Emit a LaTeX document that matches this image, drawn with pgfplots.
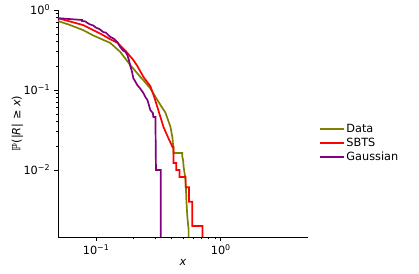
\documentclass[border=0pt]{standalone}
\usepackage{pgfplots}
\pgfplotsset{compat=1.18}
\usepackage{fontspec}
\setmainfont{DejaVu Sans}
\definecolor{mplolive}{HTML}{808000}
\definecolor{mplred}{HTML}{FF0000}
\definecolor{mplpurple}{HTML}{800080}
\begin{document}
\fontsize{11.3}{13.5}\selectfont
\begin{tikzpicture}
\begin{axis}[
    name=ax,
    scale only axis,
    width=250pt, height=227pt,
    xmode=log, ymode=log,
    xmin=0.0495, xmax=5,
    ymin=0.001454, ymax=1,
    axis x line*=bottom, axis y line*=left,
    axis line style={-, line width=0.9pt},
    tick align=outside,
    major tick length=4pt, minor tick length=2.3pt,
    tick style={black, line width=0.8pt},
    xtick={0.1,1}, xticklabels={10\textsuperscript{−1},10\textsuperscript{0}},
    ytick={0.01,0.1,1}, yticklabels={10\textsuperscript{−2},10\textsuperscript{−1},10\textsuperscript{0}},
    tick label style={font=\fontsize{11.3}{13.5}\selectfont},
    xlabel={\textit{x}},
    ylabel={ℙ(|\textit{R}| ≥ \textit{x})},
    every axis x label/.style={at={(axis description cs:0.5,0)}, anchor=north, yshift=-18pt},
    every axis y label/.style={at={(axis description cs:0,0.5)}, rotate=90, anchor=south, yshift=31pt},
    legend style={at={(axis description cs:1.03,0.414)}, anchor=west, draw=none, fill=none,
        font=\fontsize{11.3}{13.5}\selectfont},
    legend cell align=left,
    legend image code/.code={\draw[#1] (0pt,0pt) -- (24pt,0pt);},
]
\addplot[color=mplolive, line width=1.7pt] coordinates {
(0.045,0.745) (0.0494,0.729) (0.06,0.66) (0.0785,0.562) (0.095,0.48) (0.108,0.44) (0.13,0.387)
(0.156,0.30) (0.188,0.205) (0.227,0.145) (0.239,0.133) (0.272,0.105) (0.31,0.075) (0.328,0.065)
(0.36,0.052) (0.395,0.0345) (0.41,0.025) (0.418,0.0168) (0.418,0.0163) (0.49,0.0163)
(0.49,0.015) (0.498,0.0133) (0.503,0.011) (0.51,0.0095) (0.518,0.0082) (0.525,0.006)
(0.53,0.004) (0.54,0.0025) (0.552,0.0018) (0.552,0.00145)
};
\addlegendentry{Data}
\addplot[color=mplred, line width=1.7pt] coordinates {
(0.045,0.80) (0.0494,0.79) (0.0785,0.649) (0.11,0.50) (0.13,0.43) (0.148,0.39) (0.175,0.30)
(0.199,0.237) (0.214,0.20) (0.24,0.145) (0.258,0.125) (0.272,0.112) (0.29,0.085) (0.31,0.0613)
(0.328,0.0459) (0.347,0.0345) (0.38,0.025) (0.41,0.0194) (0.418,0.0194)
(0.418,0.0122) (0.44,0.0122) (0.44,0.01) (0.466,0.01) (0.466,0.0082) (0.522,0.0082)
(0.522,0.0061) (0.555,0.0061) (0.555,0.004) (0.59,0.004) (0.59,0.002) (0.712,0.002) (0.712,0.00145)
};
\addlegendentry{SBTS}
\addplot[color=mplpurple, line width=1.7pt] coordinates {
(0.045,0.80) (0.0771,0.75) (0.0771,0.73) (0.082,0.72) (0.085,0.69) (0.0895,0.66) (0.095,0.64)
(0.10,0.60) (0.106,0.58) (0.114,0.531) (0.12,0.52) (0.13,0.46) (0.138,0.44) (0.148,0.398)
(0.156,0.345) (0.165,0.31) (0.172,0.30) (0.178,0.274) (0.183,0.24) (0.188,0.20) (0.194,0.17)
(0.199,0.14) (0.205,0.13) (0.214,0.115) (0.225,0.105) (0.239,0.092) (0.248,0.082) (0.258,0.075)
(0.265,0.065) (0.272,0.0562) (0.285,0.0516) (0.288,0.0459) (0.299,0.0459) (0.302,0.0100)
(0.33,0.0100) (0.33,0.00145)
};
\addlegendentry{Gaussian}
\end{axis}
\pgfresetboundingbox
\path (ax.south west) ++(-58pt,-36pt) rectangle ++(419pt,273pt);
\end{tikzpicture}
\end{document}
